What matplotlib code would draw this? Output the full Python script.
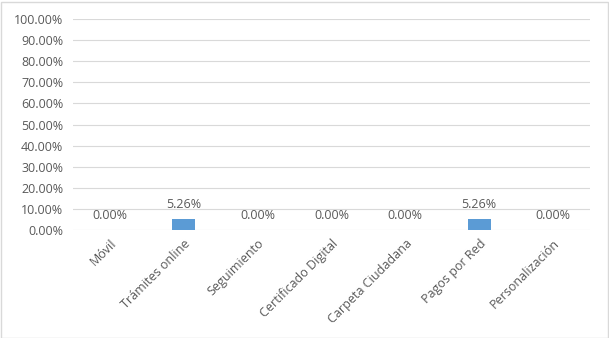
import matplotlib
matplotlib.use("Agg")
import matplotlib.pyplot as plt
from matplotlib.ticker import FuncFormatter

categories = ["Móvil", "Trámites online", "Seguimiento", "Certificado Digital",
              "Carpeta Ciudadana", "Pagos por Red", "Personalización"]
values = [0.0, 5.26, 0.0, 0.0, 0.0, 5.26, 0.0]
yticks = [0, 10, 20, 30, 40, 50, 60, 70, 80, 90, 100]

plt.rcParams['font.family'] = ['Open Sans', 'DejaVu Sans']
txt = '#595959'

fig = plt.figure(figsize=(6.09, 3.38), dpi=100)
fig.patch.set_facecolor('white')
ax = fig.add_axes([73/609, 1 - 230/338, 517/609, 211/338])

x = list(range(len(categories)))
bars = ax.bar(x, values, width=0.31, color='#5B9BD5', zorder=3)
for xi, v in zip(x, values):
    ax.annotate(f"{v:.2f}%", (xi, v), xytext=(0, 6), textcoords='offset points',
                ha='center', va='bottom', fontsize=9, color=txt, zorder=4)

ax.set_xlim(-0.5, len(categories) - 0.5)
ax.set_ylim(0, 100)
ax.set_yticks(yticks)
ax.yaxis.set_major_formatter(FuncFormatter(lambda v, p: f"{v:.2f}%"))
ax.grid(axis='y', color='#D9D9D9', linewidth=0.8, zorder=0)
for s in ax.spines.values():
    s.set_visible(False)
ax.tick_params(axis='both', length=0, colors=txt, labelsize=9)
ax.tick_params(axis='y', pad=7)
ax.set_xticks(x)
ax.set_xticklabels(categories, rotation=45, ha='right', rotation_mode='anchor')
ax.tick_params(axis='x', pad=5)

border = plt.Rectangle((0.5/609, 0.5/338), 1 - 2/609, 1 - 2/338, transform=fig.transFigure,
                       fill=False, edgecolor='#D9D9D9', linewidth=1)
fig.patches.append(border)

fig.savefig("out.png", dpi=100)
